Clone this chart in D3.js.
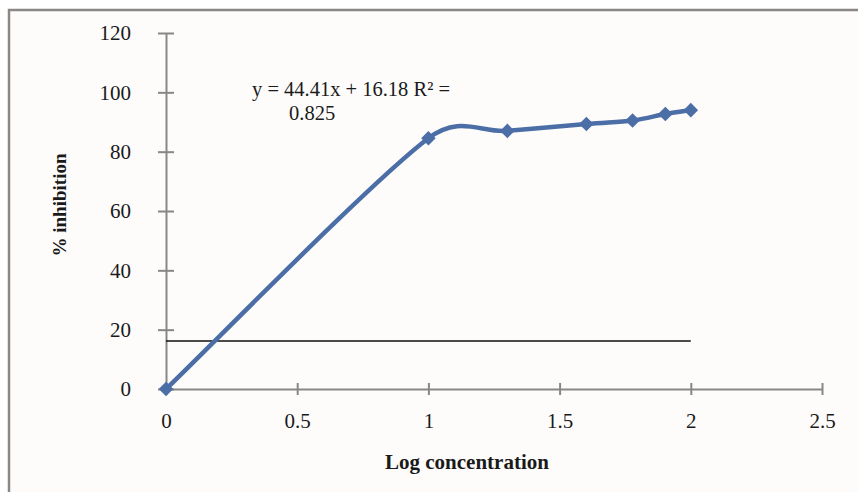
<!DOCTYPE html>
<html>
<head>
<meta charset="utf-8">
<script src="https://cdn.jsdelivr.net/npm/d3@7"></script>
<style>
  body { margin: 0; background: #fff; }
  text { font-family: "Liberation Serif", "Times New Roman", serif; fill: #1a1a1a; }
</style>
</head>
<body>
<svg id="chart" width="858" height="492"></svg>
<script>
// data
var logConc = [0, 1, 1.301, 1.602, 1.778, 1.903, 2];
var inhibition = [0, 84.5, 87, 89.3, 90.5, 92.7, 94];
var xTicks = [0, 0.5, 1, 1.5, 2, 2.5];
var yTicks = [0, 20, 40, 60, 80, 100, 120];
var trendY = 16.18;
var eqLines = ["y = 44.41x + 16.18 R\u00b2 =", "0.825"];

var svg = d3.select("#chart");

// frame
svg.append("rect").attr("x", 9).attr("y", 10).attr("width", 870).attr("height", 500)
  .attr("fill", "#fdfcfb").attr("stroke", "#8c8787").attr("stroke-width", 2.5);

var x = d3.scaleLinear().domain([0, 2.5]).range([166, 822]);
var y = d3.scaleLinear().domain([0, 120]).range([389, 33]);

var axisColor = "#878787";

var xAxis = svg.append("g").attr("transform", "translate(0," + y(0) + ")")
  .call(d3.axisBottom(x).tickValues(xTicks).tickSize(0).tickPadding(24).tickFormat(d3.format("")));
xAxis.select(".domain").attr("stroke", axisColor).attr("stroke-width", 2);
xAxis.selectAll("text").attr("font-size", 21).attr("fill", "#1a1a1a");
xAxis.selectAll(".tick").append("line").attr("y1", -6).attr("y2", 6)
  .attr("stroke", axisColor).attr("stroke-width", 2);

var yAxis = svg.append("g").attr("transform", "translate(" + x(0) + ",0)")
  .call(d3.axisLeft(y).tickValues(yTicks).tickSize(0).tickPadding(35));
yAxis.select(".domain").attr("stroke", axisColor).attr("stroke-width", 2);
yAxis.selectAll("text").attr("font-size", 21).attr("fill", "#1a1a1a");
yAxis.selectAll(".tick").append("line").attr("x1", -8).attr("x2", 8)
  .attr("stroke", axisColor).attr("stroke-width", 2);

// trend level line
svg.append("line")
  .attr("x1", x(0)).attr("x2", x(2))
  .attr("y1", y(trendY)).attr("y2", y(trendY))
  .attr("stroke", "#111").attr("stroke-width", 1.6);

// series, smoothed like a spreadsheet: tangent (next - prev)/6, capped at half the segment
var pts = logConc.map(function (d, i) { return [x(d), y(inhibition[i])]; });

function smoothPath(p) {
  var path = d3.path();
  var n = p.length;
  function pt(i) { return p[Math.max(0, Math.min(n - 1, i))]; }
  function ctrl(i, j, sign) {
    var a = pt(i - 1), b = pt(i + 1);
    var tx = (b[0] - a[0]) / 6, ty = (b[1] - a[1]) / 6;
    var len = Math.hypot(tx, ty);
    var seg = Math.hypot(p[j][0] - p[i][0], p[j][1] - p[i][1]) / 2;
    var s = len > seg ? seg / len : 1;
    return [p[i][0] + sign * tx * s, p[i][1] + sign * ty * s];
  }
  path.moveTo(p[0][0], p[0][1]);
  for (var i = 0; i < n - 1; i++) {
    var c1 = ctrl(i, i + 1, 1);
    var c2 = ctrl(i + 1, i, -1);
    path.bezierCurveTo(c1[0], c1[1], c2[0], c2[1], p[i + 1][0], p[i + 1][1]);
  }
  return path.toString();
}

svg.append("path")
  .attr("d", smoothPath(pts))
  .attr("fill", "none")
  .attr("stroke", "#4b6ea6")
  .attr("stroke-width", 4.5);

svg.selectAll("path.marker").data(pts).enter()
  .append("path").attr("class", "marker")
  .attr("d", d3.symbol().type(d3.symbolDiamond2).size(135))
  .attr("transform", function (d) { return "translate(" + d[0] + "," + d[1] + ")"; })
  .attr("fill", "#4b6ea6");

// equation
svg.append("text").attr("x", 252).attr("y", 96).attr("font-size", 20.5).text(eqLines[0]);
svg.append("text").attr("x", 289).attr("y", 120).attr("font-size", 20.5).text(eqLines[1]);

// axis titles
svg.append("text").attr("x", 467).attr("y", 469).attr("text-anchor", "middle")
  .attr("font-size", 21).attr("font-weight", "bold").text("Log concentration");
svg.append("text").attr("transform", "translate(66,205) rotate(-90)").attr("text-anchor", "middle")
  .attr("font-size", 19).attr("font-weight", "bold").text("% inhibition");
</script>
</body>
</html>
